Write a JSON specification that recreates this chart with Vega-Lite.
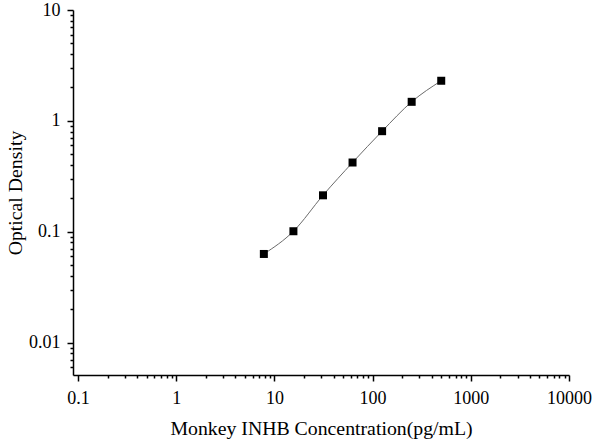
{
  "$schema": "https://vega.github.io/schema/vega-lite/v6.json",
  "autosize": {"type": "none"},
  "width": 496,
  "height": 365,
  "padding": {"left": 73, "top": 10, "right": 31, "bottom": 73},
  "config": {
    "view": {"stroke": null},
    "axis": {
      "labelFont": "Liberation Serif",
      "titleFont": "Liberation Serif",
      "labelFontSize": 18,
      "titleFontSize": 19.8,
      "titleFontWeight": "normal",
      "labelColor": "#000",
      "titleColor": "#000",
      "domainColor": "#000",
      "tickColor": "#000",
      "domainWidth": 1.5,
      "tickWidth": 1.5,
      "grid": false
    }
  },
  "data": {
    "values": [
      {"conc": 7.8125, "od": 0.063},
      {"conc": 15.625, "od": 0.101},
      {"conc": 31.25, "od": 0.213},
      {"conc": 62.5, "od": 0.421},
      {"conc": 125, "od": 0.807},
      {"conc": 250, "od": 1.485},
      {"conc": 500, "od": 2.3}
    ]
  },
  "resolve": {"axis": {"x": "independent", "y": "independent"}},
  "layer": [
    {
      "mark": {"type": "line", "interpolate": "monotone", "color": "#6b6b6b", "strokeWidth": 1},
      "encoding": {
        "x": {
          "field": "conc", "type": "quantitative",
          "scale": {"type": "log", "domain": [0.089, 10000], "nice": false},
          "axis": {
            "orient": "bottom",
            "title": "Monkey INHB Concentration(pg/mL)",
            "values": [0.1, 1, 10, 100, 1000, 10000],
            "format": "~g",
            "tickSize": 6,
            "labelPadding": 8,
            "titlePadding": 11,
            "labelFlush": false
          }
        },
        "y": {
          "field": "od", "type": "quantitative",
          "scale": {"type": "log", "domain": [0.0051, 10], "nice": false},
          "axis": {
            "orient": "left",
            "title": "Optical Density",
            "values": [0.01, 0.1, 1, 10],
            "format": "~g",
            "tickSize": 6,
            "labelPadding": 7,
            "titlePadding": 3,
            "labelFlush": false
          }
        }
      }
    },
    {
      "mark": {"type": "point", "shape": "square", "filled": true, "color": "#000", "size": 64, "opacity": 1},
      "encoding": {
        "x": {
          "field": "conc", "type": "quantitative",
          "axis": {
            "orient": "bottom",
            "title": null,
            "labels": false,
            "domain": false,
            "tickSize": 3,
            "values": [0.2, 0.3, 0.4, 0.5, 0.6, 0.7, 0.8, 0.9, 2, 3, 4, 5, 6, 7, 8, 9, 20, 30, 40, 50, 60, 70, 80, 90, 200, 300, 400, 500, 600, 700, 800, 900, 2000, 3000, 4000, 5000, 6000, 7000, 8000, 9000]
          }
        },
        "y": {
          "field": "od", "type": "quantitative",
          "axis": {
            "orient": "left",
            "title": null,
            "labels": false,
            "domain": false,
            "tickSize": 3,
            "values": [0.006, 0.007, 0.008, 0.009, 0.02, 0.03, 0.04, 0.05, 0.06, 0.07, 0.08, 0.09, 0.2, 0.3, 0.4, 0.5, 0.6, 0.7, 0.8, 0.9, 2, 3, 4, 5, 6, 7, 8, 9]
          }
        }
      }
    }
  ]
}
